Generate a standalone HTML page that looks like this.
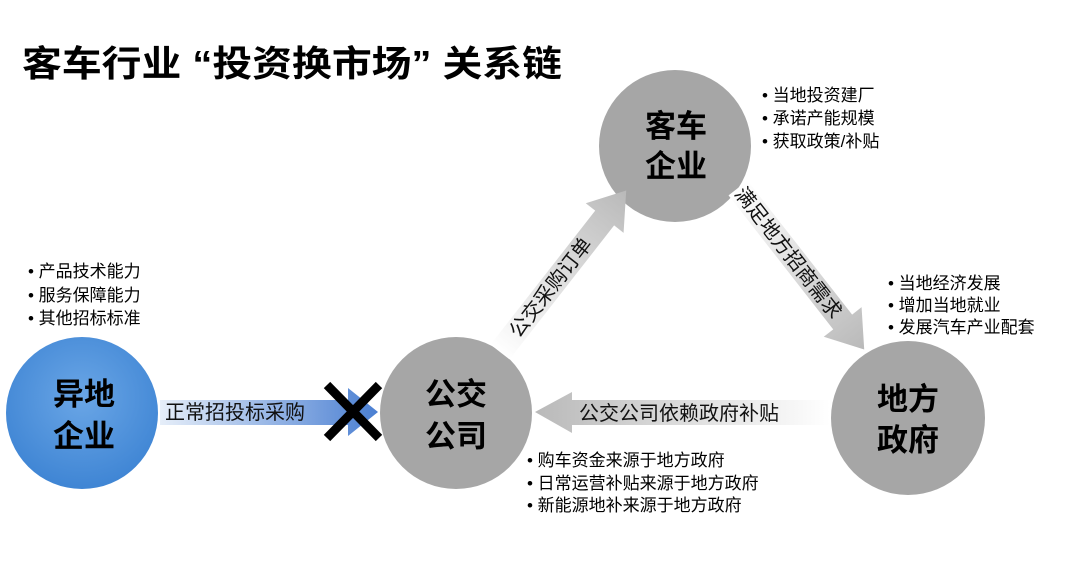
<!DOCTYPE html>
<html><head><meta charset="utf-8"><style>
html,body{margin:0;padding:0;background:#fff;}
svg{display:block;font-family:"Liberation Sans","Noto Sans CJK SC",sans-serif;}
</style></head><body>
<svg width="1080" height="571" viewBox="0 0 1080 571" xmlns="http://www.w3.org/2000/svg">
<defs>
<radialGradient id="blue" cx="0.5" cy="0.4" r="0.6">
<stop offset="0" stop-color="#6aa6e6"/><stop offset="1" stop-color="#3f85d4"/>
</radialGradient>
<linearGradient id="gL" x1="0" y1="0" x2="1" y2="0">
<stop offset="0" stop-color="#e6eef9"/><stop offset="1" stop-color="#4a7fd2"/>
</linearGradient>
<linearGradient id="gG" x1="0" y1="0" x2="1" y2="0">
<stop offset="0" stop-color="#ffffff"/><stop offset="1" stop-color="#b9b9b9"/>
</linearGradient>
<linearGradient id="gB" x1="0" y1="0" x2="1" y2="0">
<stop offset="0" stop-color="#b9b9b9"/><stop offset="1" stop-color="#ffffff"/>
</linearGradient>
</defs>
<text x="22" y="76" font-size="36" font-weight="bold" textLength="540" lengthAdjust="spacingAndGlyphs" fill="#000">客车行业 “投资换市场” 关系链</text>

<circle cx="82" cy="413" r="76" fill="url(#blue)"/>
<circle cx="456" cy="413" r="76" fill="#a6a6a6"/>
<circle cx="675" cy="146" r="76" fill="#a6a6a6"/>
<circle cx="908" cy="418" r="77" fill="#a6a6a6"/>

<path d="M160 400 L348 400 L348 388 L378 412 L348 436 L348 425 L160 425 Z" fill="url(#gL)"/>
<text x="165" y="419" font-size="20" fill="#111">正常招投标采购</text>
<path d="M327 385 L379 438 M379 385 L327 438" stroke="#000" stroke-width="9"/>

<path d="M830 400 L572 400 L572 392 L535 412 L572 433 L572 425 L830 425 Z" fill="url(#gB)"/>
<text x="579" y="420" font-size="20" fill="#111">公交公司依赖政府补贴</text>

<g transform="translate(500,352) rotate(-52)">
<path d="M0 -12 L170 -12 L170 -24 L205 0 L170 24 L170 12 L0 12 Z" fill="url(#gG)"/>
<text x="22" y="7" font-size="20" fill="#111">公交采购订单</text>
</g>
<g transform="translate(738,188) rotate(52)">
<path d="M0 -12 L170 -12 L170 -24 L205 0 L170 24 L170 12 L0 12 Z" fill="url(#gG)"/>
<text x="2" y="7" font-size="20" fill="#111">满足地方招商需求</text>
</g>

<g font-size="31" font-weight="bold" fill="#000" text-anchor="middle">
<text x="84" y="405">异地</text><text x="84" y="447">企业</text>
<text x="456" y="405">公交</text><text x="456" y="447">公司</text>
<text x="676" y="137">客车</text><text x="676" y="177">企业</text>
<text x="908" y="410">地方</text><text x="908" y="451">政府</text>
</g>

<g font-size="17" fill="#000">
<text x="762" y="101">•  当地投资建厂</text>
<text x="762" y="124">•  承诺产能规模</text>
<text x="762" y="147">•  获取政策/补贴</text>
<text x="28" y="277">•  产品技术能力</text>
<text x="28" y="301">•  服务保障能力</text>
<text x="28" y="324">•  其他招标标准</text>
<text x="888" y="289">•  当地经济发展</text>
<text x="888" y="311">•  增加当地就业</text>
<text x="888" y="333">•  发展汽车产业配套</text>
<text x="527" y="466">•  购车资金来源于地方政府</text>
<text x="527" y="489">•  日常运营补贴来源于地方政府</text>
<text x="527" y="511">•  新能源地补来源于地方政府</text>
</g>
</svg>
</body></html>
